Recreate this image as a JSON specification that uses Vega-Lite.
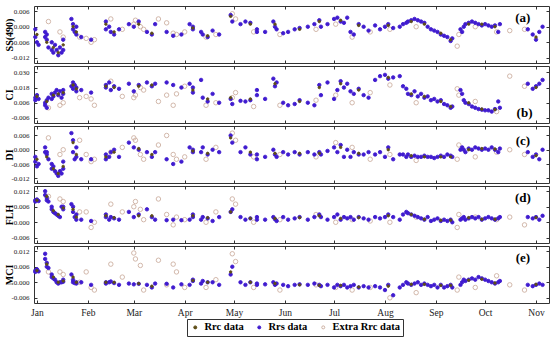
{
"$schema":"https://vega.github.io/schema/vega-lite/v6.json",
"padding":{"left":4,"top":5,"right":0,"bottom":0},
"spacing":3,
"bounds":"flush",
"config":{"view":{"stroke":"#333","strokeWidth":1},"font":"Liberation Serif",
 "point":{"opacity":1},
 "axis":{"domain":false,"grid":false,"tickColor":"#333","tickSize":-3,"labelFont":"Liberation Serif","labelColor":"#222","titleFont":"Liberation Serif","titleColor":"#000"},
 "legend":{"orient":"none","legendX":153,"legendY":313,"direction":"horizontal","strokeColor":"#333","padding":3,"labelFont":"Liberation Serif","labelFontWeight":"bold","labelFontSize":10.5,"labelColor":"#000","symbolSize":9,"columnPadding":10,"symbolStrokeWidth":1}},
"datasets":{"pts":[
{"s":"Extra Rrc data","t":"2019-01-08","a":0.002,"b":0.002,"c":0.005,"d":0.010,"e":0.004},
{"s":"Extra Rrc data","t":"2019-01-15","a":-0.002,"b":0.004,"c":-0.002,"d":0.009,"e":0.004},
{"s":"Extra Rrc data","t":"2019-01-17","a":-0.004,"b":0.006,"c":0.000,"d":0.008,"e":0.003},
{"s":"Extra Rrc data","t":"2019-01-27","a":-0.004,"b":0.010,"c":0.004,"d":0.004,"e":0.0},
{"s":"Extra Rrc data","t":"2019-01-31","a":-0.0045,"b":0.011,"c":-0.002,"d":0.004,"e":0.004},
{"s":"Extra Rrc data","t":"2019-02-03","a":-0.006,"b":0.009,"c":-0.005,"d":-0.002,"e":-0.002},
{"s":"Extra Rrc data","t":"2019-02-05","a":-0.005,"b":0.004,"c":-0.004,"d":0.000,"e":-0.003},
{"s":"Extra Rrc data","t":"2019-02-15","a":0.003,"b":0.023,"c":-0.001,"d":0.007,"e":0.007},
{"s":"Extra Rrc data","t":"2019-02-22","a":-0.001,"b":0.011,"c":0.001,"d":0.004,"e":0.002},
{"s":"Extra Rrc data","t":"2019-03-01","a":0.001,"b":0.010,"c":0.005,"d":0.006,"e":0.0113},
{"s":"Extra Rrc data","t":"2019-03-02","a":0.0025,"b":0.012,"c":0.004,"d":0.008,"e":0.009},
{"s":"Extra Rrc data","t":"2019-03-05","a":0.000,"b":0.018,"c":-0.002,"d":0.005,"e":0.0065},
{"s":"Extra Rrc data","t":"2019-03-07","a":-0.001,"b":0.016,"c":-0.004,"d":0.001,"e":-0.003},
{"s":"Extra Rrc data","t":"2019-03-16","a":0.003,"b":0.007,"c":0.002,"d":0.009,"e":0.0085},
{"s":"Extra Rrc data","t":"2019-03-21","a":0.0015,"b":0.012,"c":0.006,"d":0.003,"e":-0.001},
{"s":"Extra Rrc data","t":"2019-03-25","a":-0.0025,"b":0.004,"c":-0.002,"d":-0.001,"e":0.007},
{"s":"Extra Rrc data","t":"2019-03-27","a":-0.003,"b":0.013,"c":-0.004,"d":0.002,"e":0.004},
{"s":"Extra Rrc data","t":"2019-04-01","a":-0.002,"b":0.019,"c":-0.003,"d":0.001,"e":-0.002},
{"s":"Extra Rrc data","t":"2019-04-14","a":-0.004,"b":0.004,"c":-0.004,"d":0.000,"e":-0.002},
{"s":"Extra Rrc data","t":"2019-04-20","a":-0.003,"b":0.006,"c":0.001,"d":0.004,"e":0.001},
{"s":"Extra Rrc data","t":"2019-04-30","a":0.005,"b":0.010,"c":0.007,"d":0.009,"e":0.011},
{"s":"Extra Rrc data","t":"2019-05-02","a":0.003,"b":0.014,"c":0.004,"d":0.007,"e":0.008},
{"s":"Extra Rrc data","t":"2019-05-13","a":-0.002,"b":0.003,"c":-0.003,"d":0.0,"e":-0.002},
{"s":"Extra Rrc data","t":"2019-05-29","a":-0.003,"b":0.004,"c":-0.002,"d":0.001,"e":-0.003},
{"s":"Extra Rrc data","t":"2019-06-20","a":-0.001,"b":0.008,"c":-0.003,"d":0.003,"e":-0.001},
{"s":"Extra Rrc data","t":"2019-07-02","a":0.001,"b":0.012,"c":0.003,"d":0.0,"e":-0.002},
{"s":"Extra Rrc data","t":"2019-07-12","a":-0.004,"b":0.006,"c":0.001,"d":0.001,"e":-0.003},
{"s":"Extra Rrc data","t":"2019-07-23","a":-0.002,"b":0.014,"c":-0.004,"d":0.0005,"e":-0.002},
{"s":"Extra Rrc data","t":"2019-08-04","a":-0.001,"b":0.020,"c":-0.002,"d":0.0,"e":-0.006},
{"s":"Extra Rrc data","t":"2019-08-20","a":0.0,"b":0.006,"c":-0.0045,"d":0.002,"e":-0.004},
{"s":"Extra Rrc data","t":"2019-09-14","a":-0.0075,"b":0.017,"c":-0.004,"d":-0.002,"e":-0.003},
{"s":"Extra Rrc data","t":"2019-09-15","a":-0.003,"b":0.012,"c":0.002,"d":0.003,"e":0.002},
{"s":"Extra Rrc data","t":"2019-09-25","a":0.0,"b":0.007,"c":-0.003,"d":0.002,"e":-0.002},
{"s":"Extra Rrc data","t":"2019-10-08","a":-0.002,"b":-0.001,"c":-0.001,"d":0.001,"e":0.0025},
{"s":"Extra Rrc data","t":"2019-10-16","a":-0.0015,"b":0.027,"c":0.000,"d":0.002,"e":-0.001},
{"s":"Extra Rrc data","t":"2019-10-25","a":-0.001,"b":0.019,"c":-0.002,"d":-0.001,"e":-0.003},
{"s":"Rrs data","t":"2018-12-31","a":-0.001,"b":0.010,"c":-0.003,"d":0.0085,"e":0.0045},
{"s":"Rrs data","t":"2018-12-31","a":-0.004,"b":0.008,"c":-0.005,"d":0.008,"e":0.004},
{"s":"Rrs data","t":"2019-01-01","a":-0.006,"b":0.012,"c":-0.007,"d":0.0088,"e":0.005},
{"s":"Rrs data","t":"2019-01-02","a":-0.007,"b":0.009,"c":-0.006,"d":0.0082,"e":0.0042},
{"s":"Rrs data","t":"2019-01-06","a":-0.002,"b":0.006,"c":-0.001,"d":0.012,"e":0.011},
{"s":"Rrs data","t":"2019-01-06","a":-0.004,"b":0.004,"c":0.001,"d":0.0105,"e":0.009},
{"s":"Rrs data","t":"2019-01-07","a":-0.005,"b":0.008,"c":-0.002,"d":0.0095,"e":0.0075},
{"s":"Rrs data","t":"2019-01-07","a":-0.003,"b":0.002,"c":-0.001,"d":0.0085,"e":0.006},
{"s":"Rrs data","t":"2019-01-08","a":-0.008,"b":0.010,"c":-0.004,"d":0.008,"e":0.0055},
{"s":"Rrs data","t":"2019-01-10","a":-0.006,"b":0.013,"c":-0.006,"d":0.006,"e":0.003},
{"s":"Rrs data","t":"2019-01-10","a":-0.009,"b":0.009,"c":-0.008,"d":0.005,"e":0.002},
{"s":"Rrs data","t":"2019-01-11","a":-0.010,"b":0.011,"c":-0.007,"d":0.004,"e":0.0015},
{"s":"Rrs data","t":"2019-01-12","a":-0.007,"b":0.014,"c":-0.009,"d":0.0035,"e":0.001},
{"s":"Rrs data","t":"2019-01-13","a":-0.009,"b":0.016,"c":-0.010,"d":0.003,"e":0.0},
{"s":"Rrs data","t":"2019-01-14","a":-0.011,"b":0.012,"c":-0.011,"d":0.0025,"e":-0.0005},
{"s":"Rrs data","t":"2019-01-15","a":-0.008,"b":0.015,"c":-0.009,"d":0.002,"e":0.0},
{"s":"Rrs data","t":"2019-01-16","a":-0.010,"b":0.010,"c":-0.010,"d":0.006,"e":0.0},
{"s":"Rrs data","t":"2019-01-17","a":-0.005,"b":0.013,"c":-0.005,"d":0.005,"e":0.001},
{"s":"Rrs data","t":"2019-01-17","a":-0.009,"b":0.016,"c":-0.008,"d":0.006,"e":0.0002},
{"s":"Rrs data","t":"2019-01-22","a":0.003,"b":0.019,"c":0.007,"d":0.007,"e":0.003},
{"s":"Rrs data","t":"2019-01-23","a":0.001,"b":0.022,"c":0.004,"d":0.006,"e":0.001},
{"s":"Rrs data","t":"2019-01-23","a":-0.001,"b":0.017,"c":-0.001,"d":0.004,"e":0.0},
{"s":"Rrs data","t":"2019-01-24","a":-0.002,"b":0.020,"c":-0.004,"d":0.002,"e":-0.0003},
{"s":"Rrs data","t":"2019-01-25","a":0.000,"b":0.015,"c":0.001,"d":0.003,"e":0.0},
{"s":"Rrs data","t":"2019-01-25","a":-0.003,"b":0.018,"c":-0.003,"d":0.001,"e":-0.0005},
{"s":"Rrs data","t":"2019-01-28","a":-0.004,"b":0.016,"c":-0.004,"d":0.001,"e":0.0},
{"s":"Rrs data","t":"2019-02-03","a":-0.005,"b":0.014,"c":-0.004,"d":0.0005,"e":-0.001},
{"s":"Rrs data","t":"2019-02-12","a":0.002,"b":0.020,"c":-0.002,"d":0.003,"e":0.0},
{"s":"Rrs data","t":"2019-02-12","a":-0.001,"b":0.018,"c":-0.004,"d":0.002,"e":-0.0005},
{"s":"Rrs data","t":"2019-02-14","a":0.000,"b":0.022,"c":-0.003,"d":0.001,"e":0.0},
{"s":"Rrs data","t":"2019-02-15","a":-0.002,"b":0.016,"c":-0.001,"d":0.002,"e":0.0003},
{"s":"Rrs data","t":"2019-02-17","a":-0.003,"b":0.019,"c":0.000,"d":0.0015,"e":-0.0003},
{"s":"Rrs data","t":"2019-02-20","a":-0.001,"b":0.017,"c":-0.003,"d":0.001,"e":-0.001},
{"s":"Rrs data","t":"2019-02-26","a":0.001,"b":0.021,"c":0.003,"d":0.004,"e":-0.0005},
{"s":"Rrs data","t":"2019-03-01","a":0.000,"b":0.015,"c":0.001,"d":0.002,"e":-0.0008},
{"s":"Rrs data","t":"2019-03-04","a":0.002,"b":0.020,"c":0.0,"d":0.003,"e":-0.0006},
{"s":"Rrs data","t":"2019-03-09","a":-0.002,"b":0.022,"c":-0.001,"d":0.005,"e":-0.001},
{"s":"Rrs data","t":"2019-03-12","a":-0.003,"b":0.019,"c":-0.003,"d":0.002,"e":-0.002},
{"s":"Rrs data","t":"2019-03-14","a":0.001,"b":0.021,"c":-0.001,"d":0.001,"e":-0.0005},
{"s":"Rrs data","t":"2019-03-21","a":-0.002,"b":0.022,"c":-0.004,"d":0.0008,"e":-0.0006},
{"s":"Rrs data","t":"2019-03-25","a":-0.0035,"b":0.020,"c":-0.006,"d":0.001,"e":-0.002},
{"s":"Rrs data","t":"2019-03-30","a":-0.003,"b":0.018,"c":-0.005,"d":0.0008,"e":-0.0008},
{"s":"Rrs data","t":"2019-04-04","a":0.001,"b":0.021,"c":0.001,"d":0.001,"e":-0.001},
{"s":"Rrs data","t":"2019-04-06","a":-0.001,"b":0.014,"c":-0.001,"d":0.002,"e":0.0005},
{"s":"Rrs data","t":"2019-04-06","a":0.000,"b":0.018,"c":0.000,"d":0.003,"e":0.001},
{"s":"Rrs data","t":"2019-04-11","a":-0.002,"b":0.024,"c":-0.001,"d":0.001,"e":-0.0005},
{"s":"Rrs data","t":"2019-04-12","a":-0.003,"b":0.010,"c":0.001,"d":0.002,"e":0.0005},
{"s":"Rrs data","t":"2019-04-15","a":-0.004,"b":0.007,"c":-0.002,"d":0.0015,"e":0.0},
{"s":"Rrs data","t":"2019-04-18","a":-0.0015,"b":0.013,"c":0.000,"d":0.0005,"e":0.0},
{"s":"Rrs data","t":"2019-04-22","a":-0.003,"b":0.006,"c":-0.001,"d":0.002,"e":-0.001},
{"s":"Rrs data","t":"2019-04-29","a":0.0045,"b":0.009,"c":0.006,"d":0.004,"e":0.003},
{"s":"Rrs data","t":"2019-04-30","a":0.002,"b":0.005,"c":0.003,"d":0.005,"e":0.006},
{"s":"Rrs data","t":"2019-05-05","a":0.001,"b":0.0075,"c":-0.001,"d":0.002,"e":0.0},
{"s":"Rrs data","t":"2019-05-08","a":0.002,"b":0.007,"c":0.001,"d":0.001,"e":-0.001},
{"s":"Rrs data","t":"2019-05-11","a":0.0015,"b":0.008,"c":-0.002,"d":0.0015,"e":0.0},
{"s":"Rrs data","t":"2019-05-15","a":-0.001,"b":0.012,"c":-0.004,"d":0.001,"e":-0.001},
{"s":"Rrs data","t":"2019-05-15","a":-0.002,"b":0.016,"c":-0.002,"d":0.002,"e":-0.0005},
{"s":"Rrs data","t":"2019-05-20","a":-0.002,"b":0.009,"c":-0.003,"d":0.001,"e":-0.0008},
{"s":"Rrs data","t":"2019-05-25","a":0.002,"b":0.025,"c":0.000,"d":0.002,"e":0.0},
{"s":"Rrs data","t":"2019-05-26","a":0.000,"b":0.019,"c":-0.002,"d":0.0012,"e":-0.001},
{"s":"Rrs data","t":"2019-05-27","a":-0.001,"b":0.022,"c":-0.003,"d":0.0005,"e":-0.0005},
{"s":"Rrs data","t":"2019-05-31","a":-0.0025,"b":0.006,"c":-0.001,"d":0.002,"e":-0.001},
{"s":"Rrs data","t":"2019-06-03","a":-0.002,"b":0.004,"c":-0.002,"d":0.001,"e":-0.0015},
{"s":"Rrs data","t":"2019-06-07","a":-0.001,"b":0.005,"c":-0.001,"d":0.0015,"e":-0.001},
{"s":"Rrs data","t":"2019-06-10","a":-0.0005,"b":0.008,"c":-0.002,"d":0.002,"e":-0.0008},
{"s":"Rrs data","t":"2019-06-15","a":0.000,"b":0.006,"c":-0.001,"d":0.001,"e":-0.001},
{"s":"Rrs data","t":"2019-06-19","a":0.001,"b":0.004,"c":-0.002,"d":0.002,"e":-0.0005},
{"s":"Rrs data","t":"2019-06-22","a":0.0025,"b":0.020,"c":-0.001,"d":0.003,"e":-0.001},
{"s":"Rrs data","t":"2019-06-23","a":0.000,"b":0.012,"c":-0.002,"d":0.002,"e":-0.0015},
{"s":"Rrs data","t":"2019-06-27","a":0.001,"b":0.022,"c":-0.0005,"d":0.001,"e":-0.001},
{"s":"Rrs data","t":"2019-07-01","a":0.003,"b":0.009,"c":0.001,"d":0.002,"e":-0.002},
{"s":"Rrs data","t":"2019-07-03","a":0.0035,"b":0.016,"c":-0.001,"d":0.003,"e":-0.001},
{"s":"Rrs data","t":"2019-07-05","a":0.002,"b":0.023,"c":0.002,"d":0.001,"e":-0.0015},
{"s":"Rrs data","t":"2019-07-07","a":0.0015,"b":0.018,"c":-0.003,"d":0.002,"e":-0.001},
{"s":"Rrs data","t":"2019-07-09","a":0.0035,"b":0.021,"c":0.000,"d":0.0015,"e":-0.002},
{"s":"Rrs data","t":"2019-07-11","a":-0.002,"b":0.015,"c":-0.003,"d":0.002,"e":-0.0015},
{"s":"Rrs data","t":"2019-07-13","a":-0.003,"b":0.013,"c":-0.001,"d":0.001,"e":-0.001},
{"s":"Rrs data","t":"2019-07-16","a":0.001,"b":0.017,"c":-0.002,"d":0.002,"e":-0.002},
{"s":"Rrs data","t":"2019-07-19","a":0.000,"b":0.012,"c":-0.002,"d":0.0015,"e":-0.0015},
{"s":"Rrs data","t":"2019-07-22","a":-0.0015,"b":0.010,"c":-0.001,"d":0.001,"e":-0.002},
{"s":"Rrs data","t":"2019-07-26","a":0.0005,"b":0.024,"c":-0.002,"d":0.002,"e":-0.0015},
{"s":"Rrs data","t":"2019-07-29","a":-0.001,"b":0.027,"c":-0.001,"d":0.0015,"e":-0.002},
{"s":"Rrs data","t":"2019-08-01","a":0.000,"b":0.028,"c":-0.003,"d":0.002,"e":-0.003},
{"s":"Rrs data","t":"2019-08-03","a":0.001,"b":0.025,"c":0.001,"d":0.003,"e":-0.001},
{"s":"Rrs data","t":"2019-08-06","a":-0.0005,"b":0.026,"c":-0.004,"d":0.002,"e":-0.005},
{"s":"Rrs data","t":"2019-08-10","a":0.000,"b":0.027,"c":-0.002,"d":0.001,"e":-0.002},
{"s":"Rrs data","t":"2019-08-12","a":0.001,"b":0.019,"c":-0.002,"d":0.003,"e":-0.001},
{"s":"Rrs data","t":"2019-08-14","a":0.0015,"b":0.017,"c":-0.003,"d":0.004,"e":0.0},
{"s":"Rrs data","t":"2019-08-15","a":0.002,"b":0.013,"c":-0.002,"d":0.0035,"e":-0.0005},
{"s":"Rrs data","t":"2019-08-17","a":0.0025,"b":0.012,"c":-0.003,"d":0.003,"e":-0.001},
{"s":"Rrs data","t":"2019-08-19","a":0.003,"b":0.015,"c":-0.0025,"d":0.0025,"e":-0.0005},
{"s":"Rrs data","t":"2019-08-21","a":0.0025,"b":0.011,"c":-0.003,"d":0.002,"e":0.0},
{"s":"Rrs data","t":"2019-08-23","a":0.002,"b":0.013,"c":-0.003,"d":0.0015,"e":-0.001},
{"s":"Rrs data","t":"2019-08-25","a":0.0015,"b":0.010,"c":-0.0025,"d":0.001,"e":-0.0005},
{"s":"Rrs data","t":"2019-08-27","a":0.000,"b":0.011,"c":-0.003,"d":0.002,"e":-0.001},
{"s":"Rrs data","t":"2019-08-29","a":-0.001,"b":0.008,"c":-0.003,"d":0.0005,"e":-0.0015},
{"s":"Rrs data","t":"2019-08-31","a":-0.0015,"b":0.009,"c":-0.0035,"d":0.001,"e":-0.001},
{"s":"Rrs data","t":"2019-09-02","a":-0.002,"b":0.007,"c":-0.003,"d":0.0015,"e":-0.002},
{"s":"Rrs data","t":"2019-09-04","a":-0.003,"b":0.008,"c":-0.0025,"d":0.0005,"e":-0.001},
{"s":"Rrs data","t":"2019-09-06","a":-0.0035,"b":0.005,"c":-0.003,"d":0.001,"e":-0.002},
{"s":"Rrs data","t":"2019-09-08","a":-0.004,"b":0.004,"c":-0.002,"d":0.0005,"e":-0.0015},
{"s":"Rrs data","t":"2019-09-10","a":-0.0055,"b":0.002,"c":-0.0025,"d":0.001,"e":-0.001},
{"s":"Rrs data","t":"2019-09-11","a":-0.0045,"b":0.003,"c":-0.003,"d":0.0,"e":-0.002},
{"s":"Rrs data","t":"2019-09-16","a":-0.001,"b":0.016,"c":0.000,"d":0.001,"e":-0.001},
{"s":"Rrs data","t":"2019-09-17","a":-0.002,"b":0.013,"c":0.001,"d":0.0015,"e":0.0},
{"s":"Rrs data","t":"2019-09-18","a":0.000,"b":0.008,"c":0.000,"d":0.002,"e":0.001},
{"s":"Rrs data","t":"2019-09-19","a":0.001,"b":0.006,"c":-0.001,"d":0.001,"e":0.0005},
{"s":"Rrs data","t":"2019-09-21","a":0.0015,"b":0.005,"c":0.0005,"d":0.0015,"e":0.001},
{"s":"Rrs data","t":"2019-09-23","a":0.002,"b":0.003,"c":0.000,"d":0.002,"e":0.0015},
{"s":"Rrs data","t":"2019-09-25","a":0.0015,"b":0.002,"c":0.001,"d":0.0015,"e":0.001},
{"s":"Rrs data","t":"2019-09-27","a":0.001,"b":0.001,"c":0.0005,"d":0.002,"e":0.002},
{"s":"Rrs data","t":"2019-09-29","a":0.0005,"b":0.0005,"c":0.0,"d":0.001,"e":0.0015},
{"s":"Rrs data","t":"2019-10-01","a":0.001,"b":0.000,"c":0.0005,"d":0.0015,"e":0.001},
{"s":"Rrs data","t":"2019-10-03","a":0.0005,"b":0.000,"c":0.0,"d":0.002,"e":0.0005},
{"s":"Rrs data","t":"2019-10-05","a":0.000,"b":-0.001,"c":0.001,"d":0.0015,"e":0.0},
{"s":"Rrs data","t":"2019-10-07","a":0.0005,"b":0.001,"c":0.0,"d":0.001,"e":-0.0005},
{"s":"Rrs data","t":"2019-10-09","a":-0.002,"b":0.007,"c":-0.001,"d":0.0015,"e":0.0},
{"s":"Rrs data","t":"2019-10-10","a":0.001,"b":0.002,"c":0.0005,"d":0.002,"e":0.0005},
{"s":"Rrs data","t":"2019-10-27","a":-0.001,"b":0.021,"c":-0.001,"d":0.002,"e":-0.001},
{"s":"Rrs data","t":"2019-10-30","a":-0.003,"b":0.017,"c":-0.003,"d":0.0015,"e":-0.0015},
{"s":"Rrs data","t":"2019-11-01","a":-0.005,"b":0.019,"c":-0.002,"d":0.002,"e":-0.001},
{"s":"Rrs data","t":"2019-11-03","a":-0.002,"b":0.021,"c":-0.004,"d":0.001,"e":-0.0005},
{"s":"Rrs data","t":"2019-11-05","a":0.000,"b":0.024,"c":0.000,"d":0.0025,"e":-0.001},
{"s":"Rrc data","t":"2019-01-01","a":-0.003,"b":0.011,"c":-0.004,"d":0.0085,"e":0.0045},
{"s":"Rrc data","t":"2019-01-07","a":-0.006,"b":0.007,"c":-0.003,"d":0.010,"e":0.007},
{"s":"Rrc data","t":"2019-01-11","a":-0.008,"b":0.012,"c":-0.008,"d":0.0045,"e":0.002},
{"s":"Rrc data","t":"2019-01-14","a":-0.010,"b":0.013,"c":-0.010,"d":0.003,"e":0.0},
{"s":"Rrc data","t":"2019-01-17","a":-0.007,"b":0.014,"c":-0.007,"d":0.0055,"e":0.0005},
{"s":"Rrc data","t":"2019-01-23","a":0.000,"b":0.020,"c":0.003,"d":0.005,"e":0.002},
{"s":"Rrc data","t":"2019-01-25","a":-0.002,"b":0.017,"c":-0.002,"d":0.002,"e":0.0},
{"s":"Rrc data","t":"2019-02-12","a":0.001,"b":0.019,"c":-0.003,"d":0.0025,"e":0.0},
{"s":"Rrc data","t":"2019-02-17","a":-0.002,"b":0.018,"c":-0.001,"d":0.0018,"e":0.0},
{"s":"Rrc data","t":"2019-03-04","a":0.001,"b":0.019,"c":0.0005,"d":0.0025,"e":-0.0005},
{"s":"Rrc data","t":"2019-03-12","a":-0.0025,"b":0.020,"c":-0.002,"d":0.0025,"e":-0.0015},
{"s":"Rrc data","t":"2019-04-06","a":-0.0005,"b":0.016,"c":-0.0005,"d":0.0025,"e":0.0007},
{"s":"Rrc data","t":"2019-04-15","a":-0.0035,"b":0.009,"c":-0.0015,"d":0.0018,"e":0.0},
{"s":"Rrc data","t":"2019-04-29","a":0.004,"b":0.010,"c":0.005,"d":0.004,"e":0.004},
{"s":"Rrc data","t":"2019-05-11","a":0.001,"b":0.009,"c":-0.001,"d":0.0015,"e":0.0},
{"s":"Rrc data","t":"2019-05-26","a":0.001,"b":0.021,"c":-0.0015,"d":0.0015,"e":-0.0005},
{"s":"Rrc data","t":"2019-06-10","a":-0.001,"b":0.007,"c":-0.0015,"d":0.0018,"e":-0.001},
{"s":"Rrc data","t":"2019-06-22","a":0.002,"b":0.018,"c":-0.0015,"d":0.0025,"e":-0.0012},
{"s":"Rrc data","t":"2019-07-05","a":0.0025,"b":0.021,"c":0.001,"d":0.0015,"e":-0.0012},
{"s":"Rrc data","t":"2019-07-16","a":0.0005,"b":0.016,"c":-0.0015,"d":0.0018,"e":-0.0018},
{"s":"Rrc data","t":"2019-08-03","a":0.0005,"b":0.026,"c":0.0,"d":0.0025,"e":-0.0015},
{"s":"Rrc data","t":"2019-08-17","a":0.002,"b":0.013,"c":-0.0025,"d":0.003,"e":-0.0008},
{"s":"Rrc data","t":"2019-08-25","a":0.001,"b":0.011,"c":-0.003,"d":0.0012,"e":-0.0008},
{"s":"Rrc data","t":"2019-09-04","a":-0.0025,"b":0.007,"c":-0.003,"d":0.0008,"e":-0.0012},
{"s":"Rrc data","t":"2019-09-10","a":-0.005,"b":0.003,"c":-0.003,"d":0.0008,"e":-0.0012},
{"s":"Rrc data","t":"2019-09-21","a":0.001,"b":0.006,"c":0.0,"d":0.0018,"e":0.0008},
{"s":"Rrc data","t":"2019-09-29","a":0.001,"b":0.001,"c":0.0005,"d":0.0012,"e":0.0012},
{"s":"Rrc data","t":"2019-10-07","a":0.0,"b":0.0005,"c":0.0003,"d":0.0012,"e":-0.0003},
{"s":"Rrc data","t":"2019-11-01","a":-0.004,"b":0.018,"c":-0.0025,"d":0.0018,"e":-0.0008}
]},
"vconcat":[
{"width":515,"height":57,"resolve":{"axis":{"x":"independent","y":"independent"}},
 "layer":[
 {"data":{"name":"pts"},"mark":{"type":"point","strokeWidth":0.9},
  "encoding":{
   "x":{"field":"t","type":"temporal","scale":{"type":"utc","domain":[{"year":2018,"month":12,"date":30,"hours":5,"utc":true},{"year":2019,"month":11,"date":8,"hours":22,"utc":true}]},"axis":{"orient":"bottom","labels":false,"title":null,"values":[{"year":2019,"month":1,"date":1,"utc":true},{"year":2019,"month":2,"date":1,"utc":true},{"year":2019,"month":3,"date":1,"utc":true},{"year":2019,"month":4,"date":1,"utc":true},{"year":2019,"month":5,"date":1,"utc":true},{"year":2019,"month":6,"date":1,"utc":true},{"year":2019,"month":7,"date":1,"utc":true},{"year":2019,"month":8,"date":1,"utc":true},{"year":2019,"month":9,"date":1,"utc":true},{"year":2019,"month":10,"date":1,"utc":true},{"year":2019,"month":11,"date":1,"utc":true}]}},
   "y":{"field":"a","type":"quantitative","scale":{"domain":[-0.0131,0.0075]},"axis":{"title":"SS(490)","titleFontSize":10,"titleFontWeight":"bold","titlePadding":-4,"values":[0.006,0,-0.006,-0.012],"labelExpr":"(datum.value < 0 ? '-' : '') + format(abs(datum.value), '.3f')","labelFontSize":7,"labelPadding":8}},
   "fill":{"field":"s","type":"nominal","scale":{"domain":["Rrc data","Rrs data","Extra Rrc data"],"range":["#5e4d16","#3f1bcf","rgba(255,255,255,0)"]},"legend":{"title":null}},
   "stroke":{"field":"s","type":"nominal","scale":{"domain":["Rrc data","Rrs data","Extra Rrc data"],"range":["#5e4d16","#3f1bcf","#cdb0a2"]},"legend":{"title":null}},
   "size":{"condition":[{"test":"datum.s === 'Rrc data'","value":6},{"test":"datum.s === 'Rrs data'","value":12}],"value":20}}},
 {"data":{"values":[{"label":"(a)","t":"2019-10-24","v":0.0033}]},"mark":{"type":"text","font":"Liberation Serif","fontSize":13,"fontWeight":"bold"},
  "encoding":{"x":{"field":"t","type":"temporal","axis":{"orient":"top","labels":false,"title":null,"values":[{"year":2019,"month":1,"date":1,"utc":true},{"year":2019,"month":2,"date":1,"utc":true},{"year":2019,"month":3,"date":1,"utc":true},{"year":2019,"month":4,"date":1,"utc":true},{"year":2019,"month":5,"date":1,"utc":true},{"year":2019,"month":6,"date":1,"utc":true},{"year":2019,"month":7,"date":1,"utc":true},{"year":2019,"month":8,"date":1,"utc":true},{"year":2019,"month":9,"date":1,"utc":true},{"year":2019,"month":10,"date":1,"utc":true},{"year":2019,"month":11,"date":1,"utc":true}]}},
   "y":{"field":"v","type":"quantitative","axis":{"orient":"right","labels":false,"title":null,"values":[0.006,0,-0.006,-0.012]}},
   "text":{"field":"label"}}}
 ]},
{"width":515,"height":57,"resolve":{"axis":{"x":"independent","y":"independent"}},
 "layer":[
 {"data":{"name":"pts"},"mark":{"type":"point","strokeWidth":0.9},
  "encoding":{
   "x":{"field":"t","type":"temporal","scale":{"type":"utc","domain":[{"year":2018,"month":12,"date":30,"hours":5,"utc":true},{"year":2019,"month":11,"date":8,"hours":22,"utc":true}]},"axis":{"orient":"bottom","labels":false,"title":null,"values":[{"year":2019,"month":1,"date":1,"utc":true},{"year":2019,"month":2,"date":1,"utc":true},{"year":2019,"month":3,"date":1,"utc":true},{"year":2019,"month":4,"date":1,"utc":true},{"year":2019,"month":5,"date":1,"utc":true},{"year":2019,"month":6,"date":1,"utc":true},{"year":2019,"month":7,"date":1,"utc":true},{"year":2019,"month":8,"date":1,"utc":true},{"year":2019,"month":9,"date":1,"utc":true},{"year":2019,"month":10,"date":1,"utc":true},{"year":2019,"month":11,"date":1,"utc":true}]}},
   "y":{"field":"b","type":"quantitative","scale":{"domain":[-0.0091,0.0346]},"axis":{"title":"CI","titleFontSize":10,"titleFontWeight":"bold","titlePadding":-4,"values":[0.030,0.018,0.006,-0.006],"labelExpr":"(datum.value < 0 ? '-' : '') + format(abs(datum.value), '.3f')","labelFontSize":7,"labelPadding":8}},
   "fill":{"field":"s","type":"nominal","scale":{"domain":["Rrc data","Rrs data","Extra Rrc data"],"range":["#5e4d16","#3f1bcf","rgba(255,255,255,0)"]},"legend":{"title":null}},
   "stroke":{"field":"s","type":"nominal","scale":{"domain":["Rrc data","Rrs data","Extra Rrc data"],"range":["#5e4d16","#3f1bcf","#cdb0a2"]},"legend":{"title":null}},
   "size":{"condition":[{"test":"datum.s === 'Rrc data'","value":6},{"test":"datum.s === 'Rrs data'","value":12}],"value":20}}},
 {"data":{"values":[{"label":"(b)","t":"2019-10-25","v":-0.0022}]},"mark":{"type":"text","font":"Liberation Serif","fontSize":13,"fontWeight":"bold"},
  "encoding":{"x":{"field":"t","type":"temporal","axis":{"orient":"top","labels":false,"title":null,"values":[{"year":2019,"month":1,"date":1,"utc":true},{"year":2019,"month":2,"date":1,"utc":true},{"year":2019,"month":3,"date":1,"utc":true},{"year":2019,"month":4,"date":1,"utc":true},{"year":2019,"month":5,"date":1,"utc":true},{"year":2019,"month":6,"date":1,"utc":true},{"year":2019,"month":7,"date":1,"utc":true},{"year":2019,"month":8,"date":1,"utc":true},{"year":2019,"month":9,"date":1,"utc":true},{"year":2019,"month":10,"date":1,"utc":true},{"year":2019,"month":11,"date":1,"utc":true}]}},
   "y":{"field":"v","type":"quantitative","axis":{"orient":"right","labels":false,"title":null,"values":[0.030,0.018,0.006,-0.006]}},
   "text":{"field":"label"}}}
 ]},
{"width":515,"height":57,"resolve":{"axis":{"x":"independent","y":"independent"}},
 "layer":[
 {"data":{"name":"pts"},"mark":{"type":"point","strokeWidth":0.9},
  "encoding":{
   "x":{"field":"t","type":"temporal","scale":{"type":"utc","domain":[{"year":2018,"month":12,"date":30,"hours":5,"utc":true},{"year":2019,"month":11,"date":8,"hours":22,"utc":true}]},"axis":{"orient":"bottom","labels":false,"title":null,"values":[{"year":2019,"month":1,"date":1,"utc":true},{"year":2019,"month":2,"date":1,"utc":true},{"year":2019,"month":3,"date":1,"utc":true},{"year":2019,"month":4,"date":1,"utc":true},{"year":2019,"month":5,"date":1,"utc":true},{"year":2019,"month":6,"date":1,"utc":true},{"year":2019,"month":7,"date":1,"utc":true},{"year":2019,"month":8,"date":1,"utc":true},{"year":2019,"month":9,"date":1,"utc":true},{"year":2019,"month":10,"date":1,"utc":true},{"year":2019,"month":11,"date":1,"utc":true}]}},
   "y":{"field":"c","type":"quantitative","scale":{"domain":[-0.0131,0.0082]},"axis":{"title":"DI","titleFontSize":10,"titleFontWeight":"bold","titlePadding":-4,"values":[0.006,0,-0.006,-0.012],"labelExpr":"(datum.value < 0 ? '-' : '') + format(abs(datum.value), '.3f')","labelFontSize":7,"labelPadding":8}},
   "fill":{"field":"s","type":"nominal","scale":{"domain":["Rrc data","Rrs data","Extra Rrc data"],"range":["#5e4d16","#3f1bcf","rgba(255,255,255,0)"]},"legend":{"title":null}},
   "stroke":{"field":"s","type":"nominal","scale":{"domain":["Rrc data","Rrs data","Extra Rrc data"],"range":["#5e4d16","#3f1bcf","#cdb0a2"]},"legend":{"title":null}},
   "size":{"condition":[{"test":"datum.s === 'Rrc data'","value":6},{"test":"datum.s === 'Rrs data'","value":12}],"value":20}}},
 {"data":{"values":[{"label":"(c)","t":"2019-10-24","v":0.0036}]},"mark":{"type":"text","font":"Liberation Serif","fontSize":13,"fontWeight":"bold"},
  "encoding":{"x":{"field":"t","type":"temporal","axis":{"orient":"top","labels":false,"title":null,"values":[{"year":2019,"month":1,"date":1,"utc":true},{"year":2019,"month":2,"date":1,"utc":true},{"year":2019,"month":3,"date":1,"utc":true},{"year":2019,"month":4,"date":1,"utc":true},{"year":2019,"month":5,"date":1,"utc":true},{"year":2019,"month":6,"date":1,"utc":true},{"year":2019,"month":7,"date":1,"utc":true},{"year":2019,"month":8,"date":1,"utc":true},{"year":2019,"month":9,"date":1,"utc":true},{"year":2019,"month":10,"date":1,"utc":true},{"year":2019,"month":11,"date":1,"utc":true}]}},
   "y":{"field":"v","type":"quantitative","axis":{"orient":"right","labels":false,"title":null,"values":[0.006,0,-0.006,-0.012]}},
   "text":{"field":"label"}}}
 ]},
{"width":515,"height":57,"resolve":{"axis":{"x":"independent","y":"independent"}},
 "layer":[
 {"data":{"name":"pts"},"mark":{"type":"point","strokeWidth":0.9},
  "encoding":{
   "x":{"field":"t","type":"temporal","scale":{"type":"utc","domain":[{"year":2018,"month":12,"date":30,"hours":5,"utc":true},{"year":2019,"month":11,"date":8,"hours":22,"utc":true}]},"axis":{"orient":"bottom","labels":false,"title":null,"values":[{"year":2019,"month":1,"date":1,"utc":true},{"year":2019,"month":2,"date":1,"utc":true},{"year":2019,"month":3,"date":1,"utc":true},{"year":2019,"month":4,"date":1,"utc":true},{"year":2019,"month":5,"date":1,"utc":true},{"year":2019,"month":6,"date":1,"utc":true},{"year":2019,"month":7,"date":1,"utc":true},{"year":2019,"month":8,"date":1,"utc":true},{"year":2019,"month":9,"date":1,"utc":true},{"year":2019,"month":10,"date":1,"utc":true},{"year":2019,"month":11,"date":1,"utc":true}]}},
   "y":{"field":"d","type":"quantitative","scale":{"domain":[-0.0075,0.014]},"axis":{"title":"FLH","titleFontSize":10,"titleFontWeight":"bold","titlePadding":-4,"values":[0.012,0.006,0,-0.006],"labelExpr":"(datum.value < 0 ? '-' : '') + format(abs(datum.value), '.3f')","labelFontSize":7,"labelPadding":8}},
   "fill":{"field":"s","type":"nominal","scale":{"domain":["Rrc data","Rrs data","Extra Rrc data"],"range":["#5e4d16","#3f1bcf","rgba(255,255,255,0)"]},"legend":{"title":null}},
   "stroke":{"field":"s","type":"nominal","scale":{"domain":["Rrc data","Rrs data","Extra Rrc data"],"range":["#5e4d16","#3f1bcf","#cdb0a2"]},"legend":{"title":null}},
   "size":{"condition":[{"test":"datum.s === 'Rrc data'","value":6},{"test":"datum.s === 'Rrs data'","value":12}],"value":20}}},
 {"data":{"values":[{"label":"(d)","t":"2019-10-24","v":0.0094}]},"mark":{"type":"text","font":"Liberation Serif","fontSize":13,"fontWeight":"bold"},
  "encoding":{"x":{"field":"t","type":"temporal","axis":{"orient":"top","labels":false,"title":null,"values":[{"year":2019,"month":1,"date":1,"utc":true},{"year":2019,"month":2,"date":1,"utc":true},{"year":2019,"month":3,"date":1,"utc":true},{"year":2019,"month":4,"date":1,"utc":true},{"year":2019,"month":5,"date":1,"utc":true},{"year":2019,"month":6,"date":1,"utc":true},{"year":2019,"month":7,"date":1,"utc":true},{"year":2019,"month":8,"date":1,"utc":true},{"year":2019,"month":9,"date":1,"utc":true},{"year":2019,"month":10,"date":1,"utc":true},{"year":2019,"month":11,"date":1,"utc":true}]}},
   "y":{"field":"v","type":"quantitative","axis":{"orient":"right","labels":false,"title":null,"values":[0.012,0.006,0,-0.006]}},
   "text":{"field":"label"}}}
 ]},
{"width":515,"height":57,"resolve":{"axis":{"x":"independent","y":"independent"}},
 "layer":[
 {"data":{"name":"pts"},"mark":{"type":"point","strokeWidth":0.9},
  "encoding":{
   "x":{"field":"t","type":"temporal","scale":{"type":"utc","domain":[{"year":2018,"month":12,"date":30,"hours":5,"utc":true},{"year":2019,"month":11,"date":8,"hours":22,"utc":true}]},"axis":{"orient":"bottom","title":null,"format":"%b","labelFontSize":9.5,"labelPadding":7,"values":[{"year":2019,"month":1,"date":1,"utc":true},{"year":2019,"month":2,"date":1,"utc":true},{"year":2019,"month":3,"date":1,"utc":true},{"year":2019,"month":4,"date":1,"utc":true},{"year":2019,"month":5,"date":1,"utc":true},{"year":2019,"month":6,"date":1,"utc":true},{"year":2019,"month":7,"date":1,"utc":true},{"year":2019,"month":8,"date":1,"utc":true},{"year":2019,"month":9,"date":1,"utc":true},{"year":2019,"month":10,"date":1,"utc":true},{"year":2019,"month":11,"date":1,"utc":true}]}},
   "y":{"field":"e","type":"quantitative","scale":{"domain":[-0.0068,0.0138]},"axis":{"title":"MCI","titleFontSize":10,"titleFontWeight":"bold","titlePadding":-4,"values":[0.012,0.006,0,-0.006],"labelExpr":"(datum.value < 0 ? '-' : '') + format(abs(datum.value), '.3f')","labelFontSize":7,"labelPadding":8}},
   "fill":{"field":"s","type":"nominal","scale":{"domain":["Rrc data","Rrs data","Extra Rrc data"],"range":["#5e4d16","#3f1bcf","rgba(255,255,255,0)"]},"legend":{"title":null}},
   "stroke":{"field":"s","type":"nominal","scale":{"domain":["Rrc data","Rrs data","Extra Rrc data"],"range":["#5e4d16","#3f1bcf","#cdb0a2"]},"legend":{"title":null}},
   "size":{"condition":[{"test":"datum.s === 'Rrc data'","value":6},{"test":"datum.s === 'Rrs data'","value":12}],"value":20}}},
 {"data":{"values":[{"label":"(e)","t":"2019-10-24","v":0.0094}]},"mark":{"type":"text","font":"Liberation Serif","fontSize":13,"fontWeight":"bold"},
  "encoding":{"x":{"field":"t","type":"temporal","axis":{"orient":"top","labels":false,"title":null,"values":[{"year":2019,"month":1,"date":1,"utc":true},{"year":2019,"month":2,"date":1,"utc":true},{"year":2019,"month":3,"date":1,"utc":true},{"year":2019,"month":4,"date":1,"utc":true},{"year":2019,"month":5,"date":1,"utc":true},{"year":2019,"month":6,"date":1,"utc":true},{"year":2019,"month":7,"date":1,"utc":true},{"year":2019,"month":8,"date":1,"utc":true},{"year":2019,"month":9,"date":1,"utc":true},{"year":2019,"month":10,"date":1,"utc":true},{"year":2019,"month":11,"date":1,"utc":true}]}},
   "y":{"field":"v","type":"quantitative","axis":{"orient":"right","labels":false,"title":null,"values":[0.012,0.006,0,-0.006]}},
   "text":{"field":"label"}}}
 ]}
]
}
